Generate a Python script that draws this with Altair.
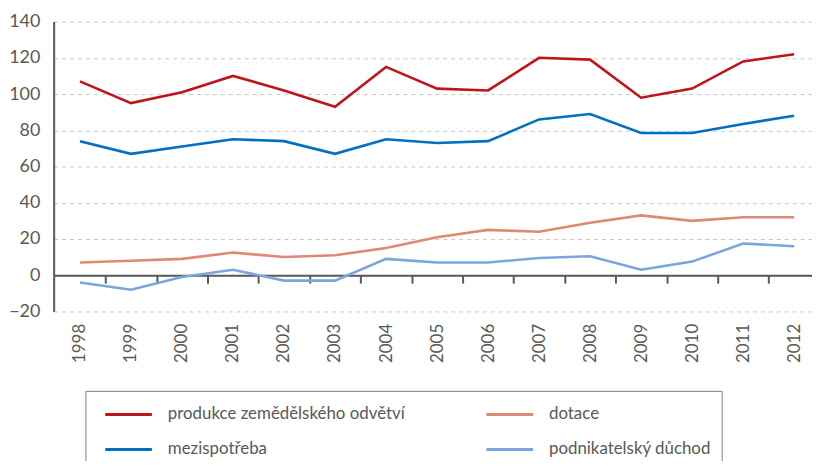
import altair as alt
import pandas as pd

years = list(range(1998, 2013))
series_names = ["produkce zemědělského odvětví", "mezispotřeba", "dotace", "podnikatelský důchod"]
produkce = [107, 95, 101, 110, 102, 93, 115, 103, 102, 120, 119, 98, 103, 118, 122]
mezispotreba = [74, 67, 71, 75, 74, 67, 75, 73, 74, 86, 89, 78.5, 78.5, 83.5, 88]
dotace = [7, 8, 9, 12.5, 10, 11, 15, 21, 25, 24, 29, 33, 30, 32, 32]
duchod = [-4, -8, -1, 3, -3, -3, 9, 7, 7, 9.5, 10.5, 3, 7.5, 17.5, 16]
colors = ["#C0141C", "#0070C0", "#DB8A74", "#7AA6DC"]

rows = []
for name, vals in zip(series_names, [produkce, mezispotreba, dotace, duchod]):
    for y, v in zip(years, vals):
        rows.append({"rok": y, "hodnota": v, "serie": name})
df = pd.DataFrame(rows)

FONT = "Lato"
GRAY = "#595959"

x_scale = alt.Scale(domain=[1997.4843, 2012.35], nice=False, zero=False)
y_enc = alt.Y(
    "hodnota:Q",
    scale=alt.Scale(domain=[-20, 140], nice=False),
    axis=alt.Axis(
        values=list(range(-20, 141, 20)),
        title=None,
        grid=True,
        gridColor="#C8C8C8",
        gridDash=[4, 4],
        gridWidth=1,
        domain=True,
        domainColor=GRAY,
        domainWidth=2,
        ticks=False,
        labelPadding=14,
        labelFont=FONT,
        labelFontSize=18,
        labelColor=GRAY,
    ),
)
color_enc = alt.Color(
    "serie:N",
    scale=alt.Scale(domain=series_names, range=colors),
    legend=alt.Legend(
        title=None,
        orient="none",
        legendX=32,
        legendY=372,
        columns=2,
        columnPadding=72,
        rowPadding=13.5,
        padding=10,
        strokeColor="#7F7F7F",
        symbolType="M-0.3,0L3.7,0",
        symbolSize=552,
        symbolStrokeWidth=3,
        labelFont=FONT,
        labelFontSize=17,
        labelColor=GRAY,
        labelOffset=46,
        labelLimit=400,
    ),
)

lines = alt.Chart(df).mark_line(strokeWidth=2.6).encode(
    x=alt.X(
        "rok:Q",
        scale=x_scale,
        axis=alt.Axis(
            orient="bottom",
            values=years,
            format="d",
            title=None,
            grid=False,
            domain=False,
            ticks=False,
            labelAngle=270,
            labelPadding=12,
            labelFont=FONT,
            labelFontSize=17,
            labelColor=GRAY,
        ),
    ),
    y=y_enc,
    color=color_enc,
)

zero_axis = alt.Chart(df).mark_line(opacity=0).encode(
    x=alt.X(
        "rok:Q",
        scale=x_scale,
        axis=alt.Axis(
            orient="bottom",
            values=[y + 0.5 for y in years[:-1]],
            title=None,
            grid=False,
            labels=False,
            domain=True,
            domainColor=GRAY,
            domainWidth=2,
            ticks=True,
            tickSize=8,
            tickWidth=2,
            tickColor=GRAY,
            offset=-36.5,
        ),
    ),
    y=y_enc,
    color=color_enc,
)

chart = (
    alt.layer(lines, zero_axis)
    .resolve_axis(x="independent")
    .properties(
        width=764,
        height=292,
        autosize=alt.AutoSizeParams(type="none"),
        padding={"left": 46, "top": 12, "right": 0, "bottom": 149},
    )
    .configure_view(stroke=None)
)

chart.save("out.html", embed_options={"renderer": "svg", "actions": False})
